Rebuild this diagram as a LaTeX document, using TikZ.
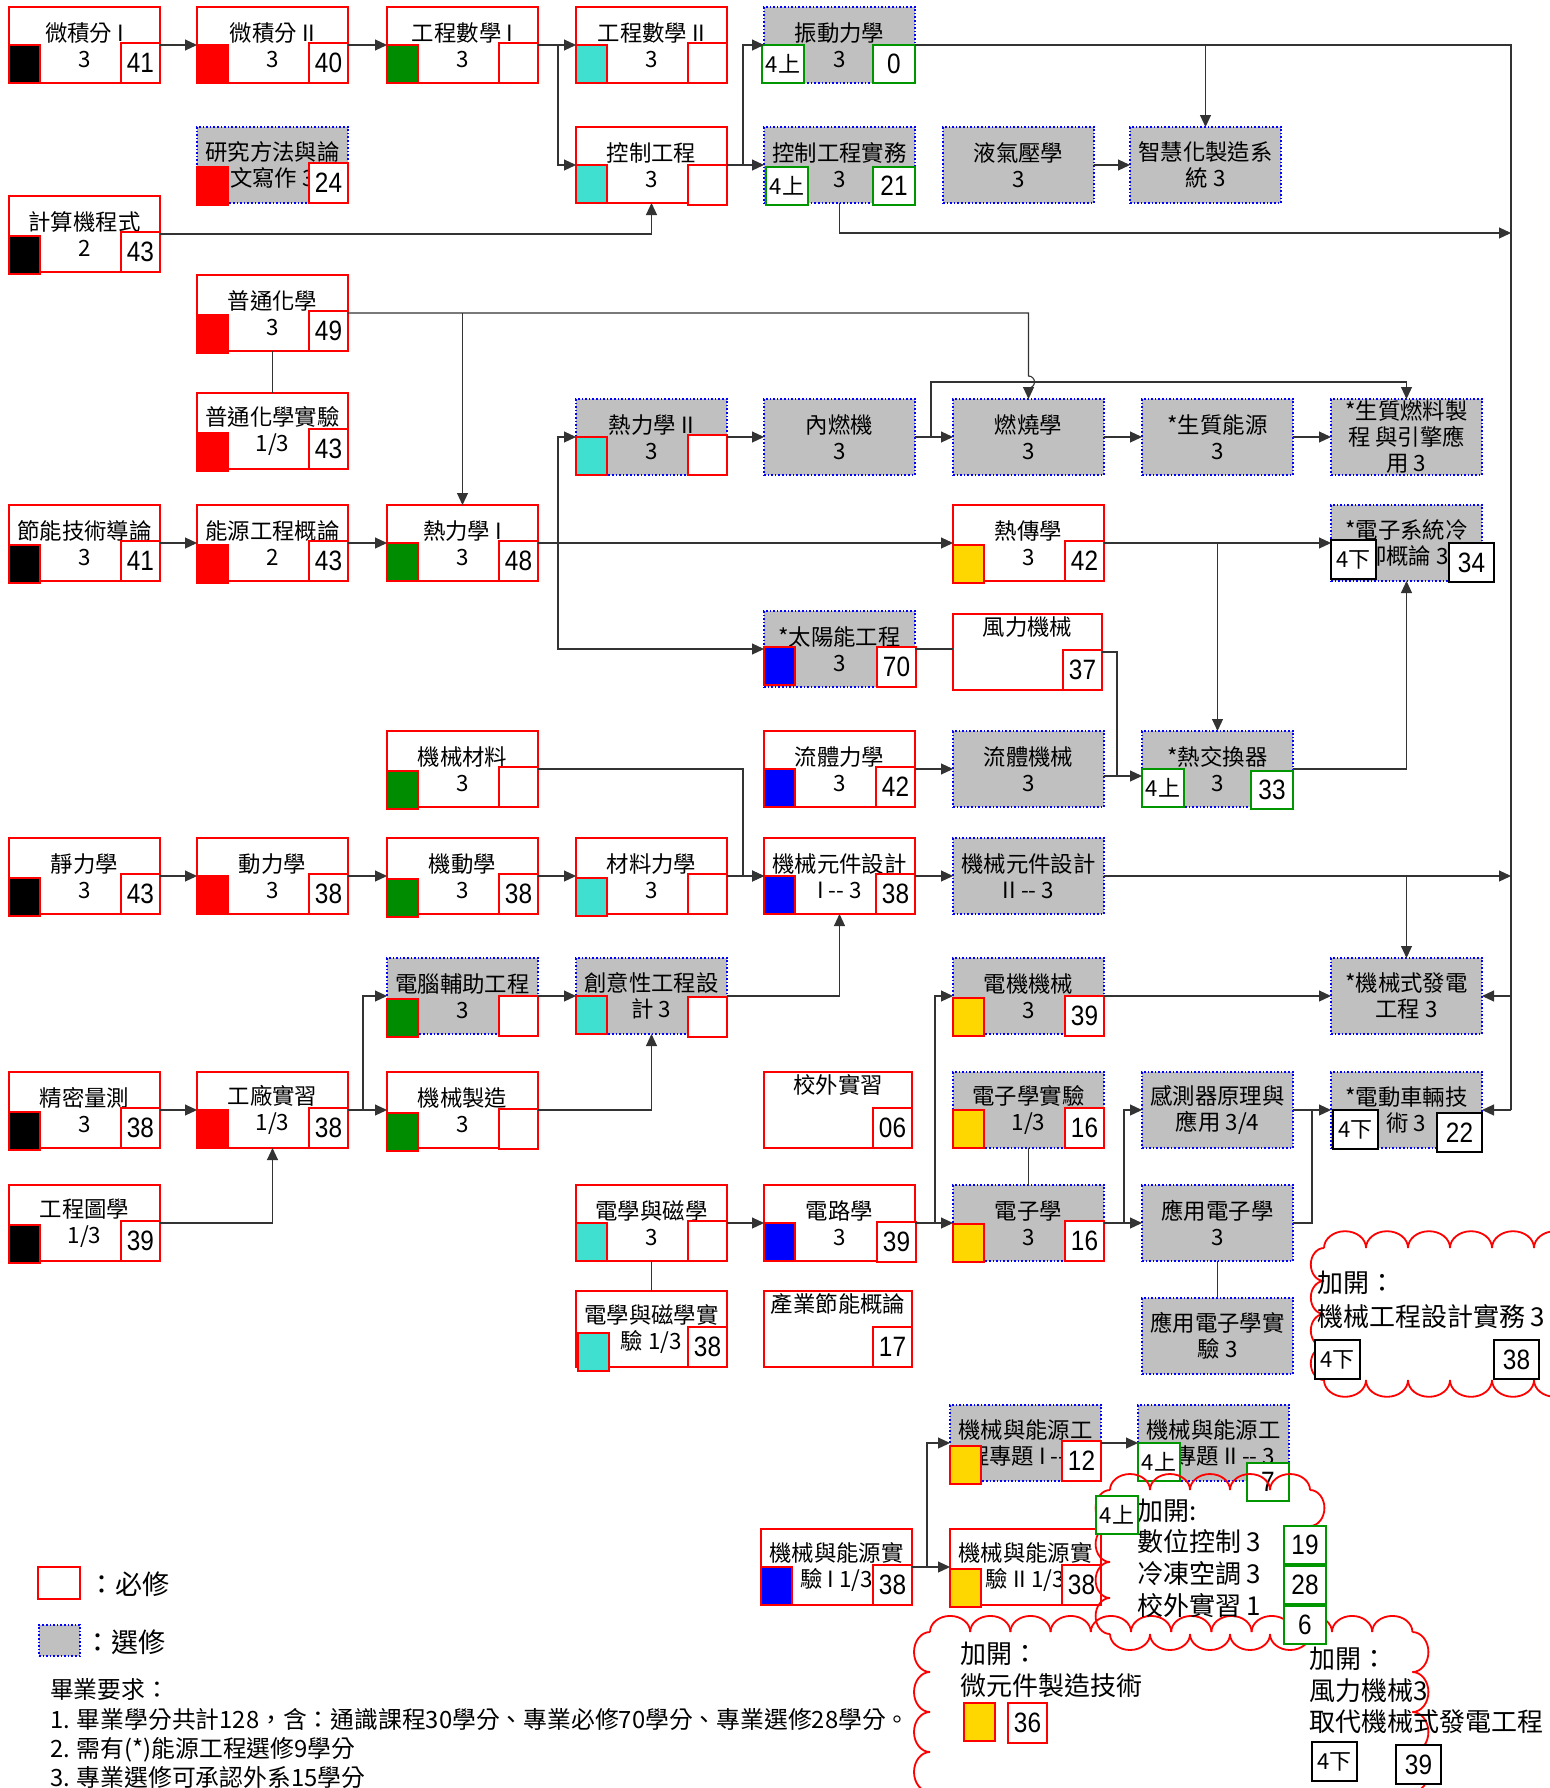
\documentclass[tikz,border=0pt]{standalone}
\usepackage{fontspec}
\setmainfont{Noto Sans CJK TC}
\newfontfamily\numfam[FakeStretch=0.87]{Liberation Sans}
\usetikzlibrary{arrows.meta,calc}
\definecolor{sqgreen}{RGB}{0,140,0}
\definecolor{sqcyan}{RGB}{64,224,208}
\definecolor{sqgold}{RGB}{255,215,0}
\definecolor{boxgray}{RGB}{192,192,192}
\definecolor{taggreen}{RGB}{0,150,0}
\newcommand\crsfont{\fontsize{11.2}{13}\selectfont}
\newcommand\boxnumfont{\numfam\fontsize{14}{14}\selectfont}
\newcommand\boxtagfont{\fontsize{11}{11}\selectfont}
\newcommand\cldfont{\fontsize{13}{16}\selectfont}
\newcommand\legfont{\fontsize{13.5}{16}\selectfont}
\newcommand\gradfont{\fontsize{11.9}{14}\selectfont}
% cloud made of puffs: x0, y0, puffs across, puffs down, puff width, puff height
\newcommand\puffcloud[6]{%
  \foreach \i in {1,...,#3}{
    \draw[cloudline] ({#1+(\i-1)*#5},#2) arc[start angle=180,end angle=360,x radius=#5/2,y radius=#5*0.4];
    \draw[cloudline] ({#1+(\i-1)*#5},{#2+#4*#6}) arc[start angle=180,end angle=0,x radius=#5/2,y radius=#5*0.4];}
  \foreach \j in {1,...,#4}{
    \draw[cloudline] (#1,{#2+(\j-1)*#6}) arc[start angle=270,end angle=90,x radius=#6*0.4,y radius=#6/2];
    \draw[cloudline] ({#1+#3*#5},{#2+(\j-1)*#6}) arc[start angle=-90,end angle=90,x radius=#6*0.4,y radius=#6/2];}}
\begin{document}
\begin{tikzpicture}[x=0.5pt,y=-0.5pt,
    every node/.style={inner sep=0pt,outer sep=0pt},
    req/.style={draw=red,line width=0.8pt,fill=white,minimum width=75.5pt,minimum height=38pt,anchor=north west,align=center,font=\crsfont},
    ele/.style={req,draw=blue,densely dotted,fill=boxgray},
    sq/.style={draw=red,line width=1pt,minimum width=15.5pt,minimum height=19pt,anchor=south west},
    num/.style={draw=red,line width=1.2pt,fill=white,minimum width=19.5pt,minimum height=20pt,anchor=south east,font=\boxnumfont},
    gtag/.style={num,draw=taggreen,minimum width=21pt,minimum height=19pt,font=\boxtagfont},
    gnum/.style={gtag,font=\boxnumfont},
    btag/.style={num,draw=black,minimum width=22.5pt,minimum height=19.5pt,font=\boxtagfont},
    bnum/.style={btag,font=\boxnumfont},
    conn/.style={draw=black!80,line width=0.55pt},
    arr/.style={conn,-{Triangle[length=6pt,width=5.5pt]}},
    cloudline/.style={draw=red,line width=0.9pt},
    txt/.style={anchor=west,font=\cldfont}]

    \fill[white] (0,0) rectangle (1550,1788);
    \useasboundingbox (0,0) rectangle (1550,1788);

    % row 1
    \node[req] (calc1) at (9,7) {微積分 I\\3}; \node[sq,fill=black] (calc1s) at (calc1.south west) {}; \node[num] (calc1n) at (calc1.south east) {41};
    \node[req] (calc2) at (197,7) {微積分 II\\3}; \node[sq,fill=red] (calc2s) at (calc2.south west) {}; \node[num] (calc2n) at (calc2.south east) {40};
    \node[req] (em1) at (387,7) {工程數學 I\\3}; \node[sq,fill=sqgreen] (em1s) at (em1.south west) {}; \node[num] (em1n) at (em1.south east) {};
    \node[req] (em2) at (576,7) {工程數學 II\\3}; \node[sq,fill=sqcyan] (em2s) at (em2.south west) {}; \node[num] (em2n) at (em2.south east) {};
    \node[ele] (vib) at (764,7) {振動力學\\3}; \node[gtag,anchor=south west] (vibt) at ($(vib.south west)+(-2,0)$) {4上}; \node[gnum] (vibn) at (vib.south east) {0};

    % row 2
    \node[ele] (rm) at (197,127) {研究方法與論\\文寫作 3}; \node[sq,fill=red] (rms) at ($(rm.south west)+(0,2)$) {}; \node[num] (rmn) at (rm.south east) {24};
    \node[req] (ctrl) at (576,127) {控制工程\\3}; \node[sq,fill=sqcyan] (ctrls) at (ctrl.south west) {}; \node[num] (ctrln) at ($(ctrl.south east)+(0,2)$) {};
    \node[ele] (ctrlp) at (764,127) {控制工程實務\\3}; \node[gtag,anchor=south west] (ctrlpt) at ($(ctrlp.south west)+(2,2)$) {4上}; \node[gnum] (ctrlpn) at ($(ctrlp.south east)+(0,2)$) {21};
    \node[ele] (hyd) at (943,127) {液氣壓學\\3};
    \node[ele] (smart) at (1130,127) {智慧化製造系\\統 3};

    % row 3 - 5
    \node[req] (prog) at (9,196) {計算機程式\\2}; \node[sq,fill=black] (progs) at ($(prog.south west)+(0,2)$) {}; \node[num] (progn) at (prog.south east) {43};
    \node[req] (chem) at (197,275) {普通化學\\3}; \node[sq,fill=red] (chems) at ($(chem.south west)+(0,2)$) {}; \node[num] (chemn) at (chem.south east) {49};
    \node[req] (chemlab) at (197,393) {普通化學實驗\\1/3}; \node[sq,fill=red] (chemlabs) at ($(chemlab.south west)+(0,2)$) {}; \node[num] (chemlabn) at (chemlab.south east) {43};
    \node[ele] (th2) at (576,399) {熱力學 II\\3}; \node[sq,fill=sqcyan] (th2s) at (th2.south west) {}; \node[num] (th2n) at (th2.south east) {};
    \node[ele] (ice) at (764,399) {內燃機\\3};
    \node[ele] (comb) at (953,399) {燃燒學\\3};
    \node[ele] (bio) at (1142,399) {*生質能源\\3};
    \node[ele] (fuel) at (1331,399) {*生質燃料製\\程 與引擎應\\用 3};

    % row 6 - 7
    \node[req] (save) at (9,505) {節能技術導論\\3}; \node[sq,fill=black] (saves) at ($(save.south west)+(0,2)$) {}; \node[num] (saven) at (save.south east) {41};
    \node[req] (intro) at (197,505) {能源工程概論\\2}; \node[sq,fill=red] (intros) at ($(intro.south west)+(0,2)$) {}; \node[num] (intron) at (intro.south east) {43};
    \node[req] (th1) at (387,505) {熱力學 I\\3}; \node[sq,fill=sqgreen] (th1s) at (th1.south west) {}; \node[num] (th1n) at (th1.south east) {48};
    \node[req] (heat) at (953,505) {熱傳學\\3}; \node[sq,fill=sqgold] (heats) at ($(heat.south west)+(0,2)$) {}; \node[num] (heatn) at (heat.south east) {42};
    \node[ele] (cool) at (1331,505) {*電子系統冷\\卻概論 3}; \node[btag,anchor=south west] (coolt) at ($(cool.south west)+(0,-2)$) {4下}; \node[bnum] (cooln) at ($(cool.south east)+(12,1)$) {34};
    \node[ele] (solar) at (764,611) {*太陽能工程\\3}; \node[sq,fill=blue] (solars) at ($(solar.south west)+(0,-2)$) {}; \node[num] (solarn) at ($(solar.south east)+(1,0)$) {70};
    \node[req,minimum width=74.5pt] (wind) at (953,614) {風力機械\\~\\~}; \node[num] (windn) at (wind.south east) {37};

    % row 8 - 9
    \node[req] (mat) at (387,731) {機械材料\\3}; \node[sq,fill=sqgreen] (mats) at ($(mat.south west)+(0,2)$) {}; \node[num] (matn) at (mat.south east) {};
    \node[req] (fluid) at (764,731) {流體力學\\3}; \node[sq,fill=blue] (fluids) at (fluid.south west) {}; \node[num] (fluidn) at (fluid.south east) {42};
    \node[ele] (flm) at (953,731) {流體機械\\3};
    \node[ele] (hx) at (1142,731) {*熱交換器\\3}; \node[gtag,anchor=south west] (hxt) at (hx.south west) {4上}; \node[gnum] (hxn) at ($(hx.south east)+(0,2)$) {33};
    \node[req] (stat) at (9,838) {靜力學\\3}; \node[sq,fill=black] (stats) at ($(stat.south west)+(0,2)$) {}; \node[num] (statn) at (stat.south east) {43};
    \node[req] (dyn) at (197,838) {動力學\\3}; \node[sq,fill=red] (dyns) at (dyn.south west) {}; \node[num] (dynn) at (dyn.south east) {38};
    \node[req] (kin) at (387,838) {機動學\\3}; \node[sq,fill=sqgreen] (kins) at ($(kin.south west)+(0,3)$) {}; \node[num] (kinn) at (kin.south east) {38};
    \node[req] (mech) at (576,838) {材料力學\\3}; \node[sq,fill=sqcyan] (mechs) at ($(mech.south west)+(0,2)$) {}; \node[num] (mechn) at (mech.south east) {};
    \node[req] (md1) at (764,838) {機械元件設計\\I -{}- 3}; \node[sq,fill=blue] (md1s) at (md1.south west) {}; \node[num] (md1n) at (md1.south east) {38};
    \node[ele] (md2) at (953,838) {機械元件設計\\II -{}- 3};

    % row 10 - 11
    \node[ele] (cae) at (387,958) {電腦輔助工程\\3}; \node[sq,fill=sqgreen] (caes) at ($(cae.south west)+(0,3)$) {}; \node[num] (caen) at ($(cae.south east)+(0,2)$) {};
    \node[ele] (cre) at (576,958) {創意性工程設\\計 3}; \node[sq,fill=sqcyan] (cres) at (cre.south west) {}; \node[num] (cren) at ($(cre.south east)+(0,3)$) {};
    \node[ele] (emach) at (953,958) {電機機械\\3}; \node[sq,fill=sqgold] (emachs) at ($(emach.south west)+(0,2)$) {}; \node[num] (emachn) at ($(emach.south east)+(0,2)$) {39};
    \node[ele] (gen) at (1331,958) {*機械式發電\\工程 3};
    \node[req] (meas) at (9,1072) {精密量測\\3}; \node[sq,fill=black] (meass) at ($(meas.south west)+(0,2)$) {}; \node[num] (measn) at (meas.south east) {38};
    \node[req] (shop) at (197,1072) {工廠實習\\1/3}; \node[sq,fill=red] (shops) at (shop.south west) {}; \node[num] (shopn) at (shop.south east) {38};
    \node[req] (manu) at (387,1072) {機械製造\\3}; \node[sq,fill=sqgreen] (manus) at ($(manu.south west)+(0,3)$) {}; \node[num] (manun) at ($(manu.south east)+(0,1)$) {};
    \node[req,minimum width=74pt] (intern) at (764,1072) {校外實習\\~\\~}; \node[num] (internn) at (intern.south east) {06};
    \node[ele] (elab) at (953,1072) {電子學實驗\\1/3}; \node[sq,fill=sqgold] (elabs) at (elab.south west) {}; \node[num] (elabn) at (elab.south east) {16};
    \node[ele] (sens) at (1142,1072) {感測器原理與\\應用 3/4};
    \node[ele] (ev) at (1331,1072) {*電動車輛技\\術 3}; \node[btag,anchor=south west] (evt) at ($(ev.south west)+(2,1)$) {4下}; \node[bnum] (evn) at ($(ev.south east)+(0,4)$) {22};

    % row 12 - 15
    \node[req] (gdraw) at (9,1185) {工程圖學\\1/3}; \node[sq,fill=black] (gdraws) at ($(gdraw.south west)+(0,2)$) {}; \node[num] (gdrawn) at (gdraw.south east) {39};
    \node[req] (emag) at (576,1185) {電學與磁學\\3}; \node[sq,fill=sqcyan] (emags) at (emag.south west) {}; \node[num] (emagn) at (emag.south east) {};
    \node[req] (circ) at (764,1185) {電路學\\3}; \node[sq,fill=blue] (circs) at (circ.south west) {}; \node[num] (circn) at ($(circ.south east)+(1,1)$) {39};
    \node[ele] (elec) at (953,1185) {電子學\\3}; \node[sq,fill=sqgold] (elecs) at ($(elec.south west)+(0,1)$) {}; \node[num] (elecn) at (elec.south east) {16};
    \node[ele] (aelec) at (1142,1185) {應用電子學\\3};
    \node[req] (emlab) at (576,1291) {電學與磁學實\\驗 1/3}; \node[sq,fill=sqcyan] (emlabs) at ($(emlab.south west)+(2,4)$) {}; \node[num] (emlabn) at (emlab.south east) {38};
    \node[req,minimum width=74pt] (ind) at (764,1291) {產業節能概論\\~\\~}; \node[num] (indn) at (ind.south east) {17};
    \node[ele] (aelab) at (1142,1298) {應用電子學實\\驗 3};
    \node[ele] (proj1) at (950,1405) {機械與能源工\\程專題 I -{}- 3}; \node[sq,fill=sqgold] (proj1s) at ($(proj1.south west)+(0,3)$) {}; \node[num] (proj1n) at (proj1.south east) {12};
    \node[ele] (proj2) at (1138,1405) {機械與能源工\\程專題 II -{}- 3}; \node[gtag,anchor=south west] (proj2t) at (proj2.south west) {4上}; \node[gnum] (proj2n) at ($(proj2.south east)+(0,20)$) {7};
    \node[req] (lab1) at (761,1529) {機械與能源實\\驗 I 1/3}; \node[sq,fill=blue] (lab1s) at (lab1.south west) {}; \node[num] (lab1n) at (lab1.south east) {38};
    \node[req] (lab2) at (950,1529) {機械與能源實\\驗 II 1/3}; \node[sq,fill=sqgold] (lab2s) at ($(lab2.south west)+(0,2)$) {}; \node[num] (lab2n) at (lab2.south east) {38};

    % bus on the right
    \coordinate (bus) at (1511,46);
    \coordinate (b1) at (1511,233);
    \draw[conn] (vib.east) -| (bus |- ev.east);
    \draw[arr] (vib.east -| smart.north) -- (smart.north);
    \draw[arr] (ctrlp.south) |- (b1);
    \draw[arr] (md2.east) -- (bus |- md2.east);
    \draw[arr] (bus |- gen.east) -- (gen.east);
    \draw[arr] (bus |- ev.east) -- (ev.east);

    % arrows top
    \draw[arr] (calc1.east) -- (calc2.west);
    \draw[arr] (calc2.east) -- (em1.west);
    \draw[arr] (em1.east) -- (em2.west);
    \draw[arr] (em1.east) -- ++(20,0) |- (ctrl.west);
    \draw[arr] (ctrl.east) -- (ctrlp.west);
    \draw[arr] (ctrl.east) -- ++(16,0) |- (vib.west);
    \draw[arr] (hyd.east) -- (smart.west);
    \draw[arr] (prog.east) -| (ctrl.south);

    % arrows thermo
    \draw[arr] (chem.east) -| ($(comb.north)+(0,-23)$) arc[start angle=-90,end angle=90,radius=6] -- (comb.north);
    \draw[arr] (chem.east -| th1.north) -- (th1.north);
    \draw[conn] (chem.south) -- (chemlab.north);
    \draw[arr] (save.east) -- (intro.west);
    \draw[arr] (intro.east) -- (th1.west);
    \draw[arr] (th1.east) -- (heat.west);
    \draw[arr] (th1.east) -- ++(20,0) |- (th2.west);
    \draw[arr] (th1.east) -- ++(20,0) |- (solar.west);
    \draw[arr] (th2.east) -- (ice.west);
    \draw[arr] (ice.east) -- (comb.west);
    \draw[arr] (ice.east) -- ++(16,0) -- ++(0,-55) -| (fuel.north);
    \draw[arr] (comb.east) -- (bio.west);
    \draw[arr] (bio.east) -- (fuel.west);
    \draw[arr] (heat.east) -- (cool.west);
    \draw[arr] (heat.east -| hx.north) -- (hx.north);
    \draw[conn] (solar.east) -- (solar.east -| wind.west);
    \draw[conn] (wind.east) -- ++(15,0) |- ($(flm.east)+(15,7)$);
    \draw[arr] ($(flm.east)+(0,7)$) -- ($(hx.west)+(0,7)$);
    \draw[arr] (hx.east) -| (cool.south);
    \draw[arr] (fluid.east) -- (flm.west);

    % arrows mechanics
    \draw[arr] (mat.east) -| ($(md1.west)+(-21,0)$) -- (md1.west);
    \draw[arr] (stat.east) -- (dyn.west);
    \draw[arr] (dyn.east) -- (kin.west);
    \draw[arr] (kin.east) -- (mech.west);
    \draw[arr] (mech.east) -- (md1.west);
    \draw[arr] (md1.east) -- (md2.west);
    \draw[arr] (md2.east -| gen.north) -- (gen.north);
    \draw[arr] (cae.east) -- (cre.west);
    \draw[arr] (cre.east) -| (md1.south);
    \draw[arr] (meas.east) -- (shop.west);
    \draw[arr] (shop.east) -- (manu.west);
    \draw[arr] (shop.east) -- ++(15,0) |- (cae.west);
    \draw[arr] (gdraw.east) -| (shop.south);
    \draw[arr] (manu.east) -| (cre.south);

    % arrows electric
    \draw[arr] (emach.east) -- (gen.west);
    \draw[arr] (emag.east) -- (circ.west);
    \draw[conn] (emag.south) -- (emlab.north);
    \draw[arr] (circ.east) -- (elec.west);
    \draw[arr] (circ.east) -- ++(20,0) |- (emach.west);
    \draw[conn] (elab.south) -- (elec.north);
    \draw[arr] (elec.east) -- (aelec.west);
    \draw[arr] (elec.east) -- ++(20,0) |- (sens.west);
    \draw[arr] (sens.east) -- (ev.west);
    \draw[conn] (aelec.east) -- ++(19,0) |- (sens.east);
    \draw[conn] (aelec.south) -- (aelab.north);
    \draw[arr] (proj1.east) -- (proj2.west);
    \draw[arr] (lab1.east) -- (lab2.west);
    \draw[arr] (lab1.east) -- ++(15,0) |- (proj1.west);

    % clouds
    \puffcloud{1324}{1248}{6}{4}{42}{33}
    \puffcloud{1110}{1490}{5}{4}{40}{36}
    \puffcloud{930}{1632}{12}{5}{40.2}{40}

    \node[txt] (cl1a) at (1317,1283) {加開：};
    \node[txt] (cl1b) at (1317,1317) {機械工程設計實務 3};
    \node[btag,anchor=north west] (cl1t) at (1315,1340) {4下}; \node[bnum,anchor=north west] (cl1n) at (1494,1340) {38};

    \node[txt] (cl2a) at (1137,1511) {加開:};
    \node[txt] (cl2b) at (1137,1542) {數位控制 3};
    \node[txt] (cl2c) at (1137,1574) {冷凍空調 3};
    \node[txt] (cl2d) at (1137,1606) {校外實習 1};
    \node[gtag,anchor=north west] (cl2t) at (1096,1496) {4上};
    \node[gnum,anchor=north west] (cl2n1) at (1284,1526) {19};
    \node[gnum,anchor=north west] (cl2n2) at (1284,1566) {28};
    \node[gnum,anchor=north west] (cl2n3) at (1284,1606) {6};

    \node[txt] (cl3a) at (960,1654) {加開：};
    \node[txt] (cl3b) at (960,1686) {微元件製造技術};
    \node[sq,fill=sqgold,anchor=north west] (cl3s) at (964,1703) {}; \node[num,anchor=north west] (cl3n) at (1008,1703) {36};
    \node[txt] (cl3c) at (1309,1659) {加開：};
    \node[txt] (cl3d) at (1309,1691) {風力機械3};
    \node[txt] (cl3e) at (1309,1722) {取代機械式發電工程};
    \node[btag,anchor=north west] (cl3t) at (1312,1742) {4下}; \node[bnum,anchor=north west] (cl3m) at (1396,1745) {39};

    % legend
    \node[req,minimum width=21pt,minimum height=16pt] (legreq) at (38,1567) {};
    \node[anchor=west,font=\legfont] (legreqt) at (88,1584) {：必修};
    \node[ele,minimum width=20.5pt,minimum height=15.5pt] (legele) at (39,1625) {};
    \node[anchor=west,font=\legfont] (legelet) at (84,1642) {：選修};
    \node[anchor=west,font=\gradfont] (grad0) at (50,1689) {畢業要求：};
    \node[anchor=west,font=\gradfont] (grad1) at (50,1719) {1. 畢業學分共計128，含：通識課程30學分、專業必修70學分、專業選修28學分。};
    \node[anchor=west,font=\gradfont] (grad2) at (50,1750) {2. 需有(*)能源工程選修9學分};
    \node[anchor=west,font=\gradfont] (grad3) at (50,1777) {3. 專業選修可承認外系15學分};
\end{tikzpicture}
\end{document}
